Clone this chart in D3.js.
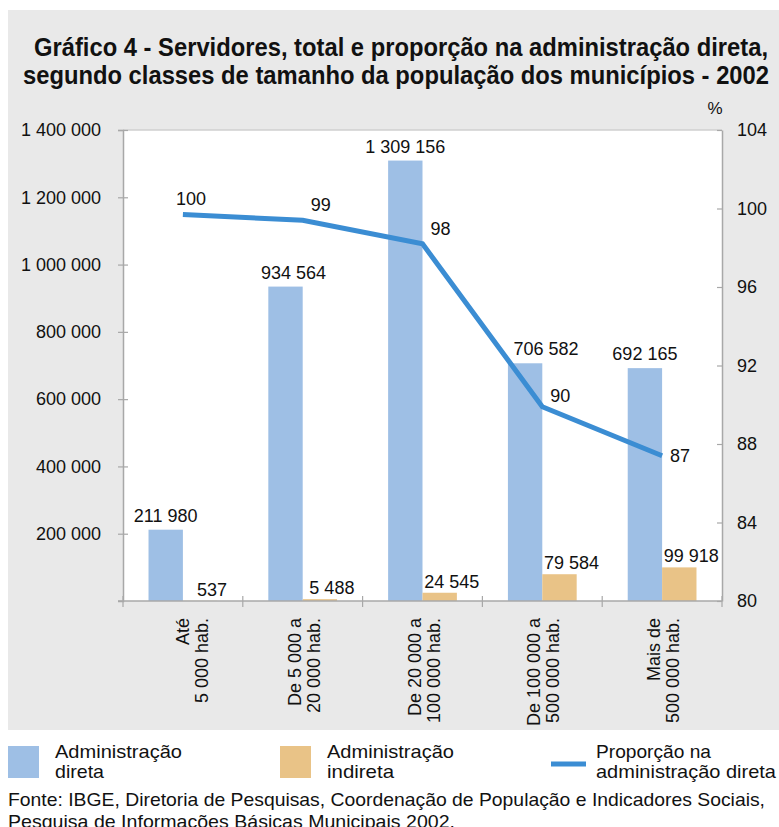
<!DOCTYPE html>
<html>
<head>
<meta charset="utf-8">
<script src="https://cdn.jsdelivr.net/npm/d3@7"></script>
<style>
  body { margin: 0; background: #fff; }
  svg { display: block; font-family: "Liberation Sans", Arial, sans-serif; }
</style>
</head>
<body>
<div id="canvas"></div>
<script>
// data
var categories = ['ate5', 'de5a20', 'de20a100', 'de100a500', 'mais500'];
var catLines = [
  ['Até', '5 000 hab.'],
  ['De 5 000 a', '20 000 hab.'],
  ['De 20 000 a', '100 000 hab.'],
  ['De 100 000 a', '500 000 hab.'],
  ['Mais de', '500 000 hab.']
];
var direta = [211980, 934564, 1309156, 706582, 692165];
var indireta = [537, 5488, 24545, 79584, 99918];
var proporcao = [99.7, 99.4, 98.2, 89.9, 87.4];
var proporcaoLabels = [100, 99, 98, 90, 87];
var leftTicks = [200000, 400000, 600000, 800000, 1000000, 1200000, 1400000];
var rightTicks = [80, 84, 88, 92, 96, 100, 104];

var W = 779, H = 827;
var m = {t: 130, r: 57, b: 226, l: 123};

var svg = d3.select('#canvas').append('svg')
  .attr('width', W).attr('height', H);

// grey panel + white plot area
svg.append('rect').attr('x', 8).attr('y', 10).attr('width', W - 8).attr('height', 720).attr('fill', '#e9e9e9');
svg.append('rect').attr('x', m.l).attr('y', m.t).attr('width', W - m.l - m.r).attr('height', H - m.t - m.b).attr('fill', '#fff');

var loc = d3.formatLocale({decimal: ',', thousands: ' ', grouping: [3], currency: ['', '']});
var fmt = loc.format(',');

var x = d3.scaleBand().domain(categories).range([m.l, W - m.r]);
var yL = d3.scaleLinear().domain([0, 1400000]).range([H - m.b, m.t]);
var yR = d3.scaleLinear().domain([80, 104]).range([H - m.b, m.t]);
var bw = x.bandwidth() * 0.287;
var cx = function(i){ return x(categories[i]) + x.bandwidth() / 2; };

// condensed-looking text: squeeze a normal face to a measured width
function squeezed(sel, xPos, yPos, str, len) {
  return sel.append('tspan').attr('x', xPos).attr('y', yPos)
    .attr('textLength', len).attr('lengthAdjust', 'spacingAndGlyphs').text(str);
}

// title
var title = svg.append('text').attr('font-size', 25).attr('font-weight', 'bold').attr('fill', '#111');
squeezed(title, 34, 56, 'Gráfico 4 - Servidores, total e proporção na administração direta,', 734);
squeezed(title, 23, 84, 'segundo classes de tamanho da população dos municípios - 2002', 746);

svg.append('text').attr('x', 715).attr('y', 114)
  .attr('text-anchor', 'middle').attr('font-size', 17).attr('fill', '#111').text('%');

// top border of plot
svg.append('line').attr('x1', m.l).attr('x2', W - m.r).attr('y1', m.t).attr('y2', m.t)
  .attr('stroke', '#cfcfcf').attr('stroke-width', 1.5);

// bars
svg.selectAll('.bar-d').data(direta).enter().append('rect')
  .attr('class', 'bar-d')
  .attr('x', function(d, i){ return cx(i) - bw; })
  .attr('y', function(d){ return yL(d); })
  .attr('width', bw)
  .attr('height', function(d){ return yL(0) - yL(d); })
  .attr('fill', '#9ebfe5');

svg.selectAll('.bar-i').data(indireta).enter().append('rect')
  .attr('class', 'bar-i')
  .attr('x', function(d, i){ return cx(i); })
  .attr('y', function(d){ return yL(d); })
  .attr('width', bw)
  .attr('height', function(d){ return yL(0) - yL(d); })
  .attr('fill', '#e9c387');

// axes
var axL = svg.append('g')
  .attr('transform', 'translate(' + m.l + ',0)')
  .call(d3.axisLeft(yL).tickValues(leftTicks).tickFormat(fmt).tickSize(5).tickPadding(17));
axL.selectAll('.tick line').attr('x1', 5);
var axR = svg.append('g')
  .attr('transform', 'translate(' + (W - m.r) + ',0)')
  .call(d3.axisRight(yR).tickValues(rightTicks).tickSize(0).tickPadding(15));
axR.selectAll('.tick line').attr('x1', -5).attr('x2', 0);
[axL, axR].forEach(function(a){
  a.attr('font-family', null).attr('font-size', null);
  a.select('.domain').attr('stroke', '#a8a8a8').attr('stroke-width', 1.5);
  a.selectAll('.tick line').attr('stroke', '#a8a8a8').attr('stroke-width', 1.2);
  a.selectAll('.tick text').attr('font-size', 18).attr('fill', '#111');
});

// x axis line with boundary ticks
svg.append('line').attr('x1', m.l - 5).attr('x2', W - m.r).attr('y1', yL(0)).attr('y2', yL(0))
  .attr('stroke', '#a8a8a8').attr('stroke-width', 1.5);
var bounds = categories.map(function(c){ return x(c); }).concat([x.range()[1]]);
svg.selectAll('.xtick').data(bounds).enter().append('line')
  .attr('x1', function(d){ return d; }).attr('x2', function(d){ return d; })
  .attr('y1', yL(0) - 5).attr('y2', yL(0) + 6)
  .attr('stroke', '#a8a8a8').attr('stroke-width', 1.2);

// category labels, rotated
var xl = svg.selectAll('.xlab').data(catLines).enter().append('text')
  .attr('transform', function(d, i){ return 'translate(' + (cx(i) + (i === 0 ? 8 : 0)) + ',618) rotate(-90)'; })
  .attr('text-anchor', 'end').attr('font-size', 18).attr('fill', '#111');
xl.append('tspan').attr('x', 0).attr('y', -2).text(function(d){ return d[0]; });
xl.append('tspan').attr('x', 0).attr('y', 17).text(function(d){ return d[1]; });

// line
var line = d3.line()
  .x(function(d, i){ return cx(i); })
  .y(function(d){ return yR(d); });
svg.append('path').datum(proporcao)
  .attr('d', line).attr('fill', 'none')
  .attr('stroke', '#3b8dd3').attr('stroke-width', 5);

// value labels
svg.selectAll('.lab-d').data(direta).enter().append('text')
  .attr('font-size', 18).attr('fill', '#111')
  .attr('text-anchor', 'middle')
  .attr('x', function(d, i){ return cx(i) - bw / 2 + (i === 3 ? 21 : (i === 1 ? 8 : 0)); })
  .attr('y', function(d){ return yL(d) - 8; })
  .text(function(d){ return fmt(d); });

svg.selectAll('.lab-i').data(indireta).enter().append('text')
  .attr('font-size', 18).attr('fill', '#111')
  .attr('text-anchor', 'middle')
  .attr('x', function(d, i){ return cx(i) + bw / 2 + 12; })
  .attr('y', function(d){ return yL(d) - 5; })
  .text(function(d){ return fmt(d); });

svg.selectAll('.lab-p').data(proporcaoLabels).enter().append('text')
  .attr('font-size', 18).attr('fill', '#111')
  .attr('text-anchor', function(d, i){ return i === 0 ? 'middle' : 'start'; })
  .attr('x', function(d, i){ return cx(i) + 8; })
  .attr('y', function(d, i){ return yR(proporcao[i]) + (i === 4 ? 6 : (i === 3 ? -5 : -9)); })
  .text(function(d){ return d; });

// legend
var leg = [
  {type: 'rect', color: '#9ebfe5', x: 8, lines: ['Administração', 'direta'], lens: [127, 49]},
  {type: 'rect', color: '#e9c387', x: 280, lines: ['Administração', 'indireta'], lens: [127, 67]},
  {type: 'line', color: '#3b8dd3', x: 551, lines: ['Proporção na', 'administração direta'], lens: [115, 180]}
];
leg.forEach(function(l){
  var tx = l.type === 'rect' ? l.x + 47 : l.x + 45;
  if (l.type === 'rect') {
    svg.append('rect').attr('x', l.x).attr('y', 746).attr('width', 31).attr('height', 32).attr('fill', l.color);
  } else {
    svg.append('line').attr('x1', l.x).attr('x2', l.x + 35).attr('y1', 764).attr('y2', 764)
      .attr('stroke', l.color).attr('stroke-width', 5);
  }
  var t = svg.append('text').attr('font-size', 19).attr('fill', '#111');
  squeezed(t, tx, 758, l.lines[0], l.lens[0]);
  squeezed(t, tx, 778, l.lines[1], l.lens[1]);
});

// source
var src = svg.append('text').attr('font-size', 19).attr('fill', '#111');
squeezed(src, 8, 806, 'Fonte: IBGE, Diretoria de Pesquisas, Coordenação de População e Indicadores Sociais,', 757);
squeezed(src, 8, 828, 'Pesquisa de Informações Básicas Municipais 2002.', 447);
</script>
</body>
</html>
